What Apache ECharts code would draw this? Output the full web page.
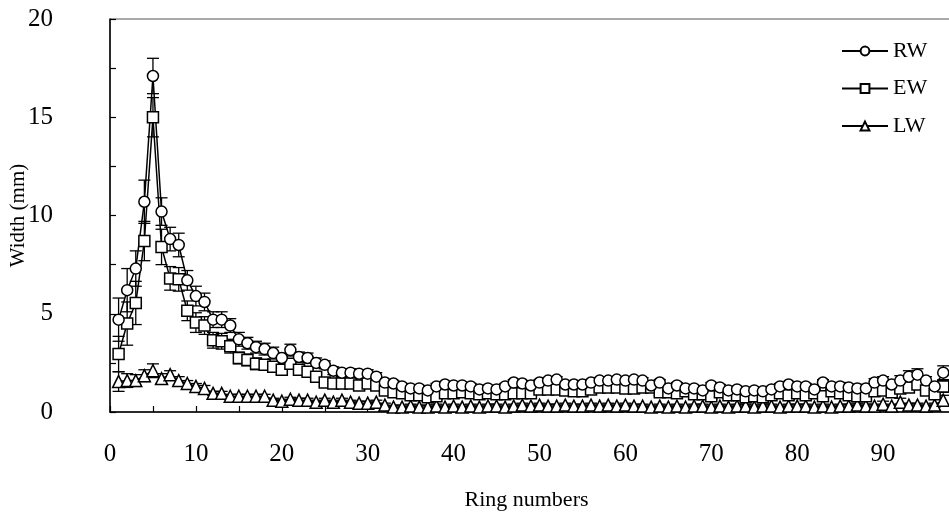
<!DOCTYPE html>
<html>
<head>
<meta charset="utf-8">
<script src="https://cdn.jsdelivr.net/npm/echarts@6/dist/echarts.min.js"></script>
<style>
  html, body { margin: 0; padding: 0; background: #fff; }
  #chart { width: 949px; height: 516px; }
</style>
</head>
<body>
<div id="chart"></div>
<script>
// ring widths (mm), ring 1..97
const rwList = [4.7, 6.2, 7.3, 10.7, 17.1, 10.2, 8.8, 8.5, 6.7, 5.9,
  5.6, 4.7, 4.7, 4.4, 3.7, 3.5, 3.3, 3.2, 3.0, 2.75,
  3.15, 2.8, 2.75, 2.5, 2.4, 2.1, 2.0, 2.0, 1.95, 1.95,
  1.8, 1.5, 1.45, 1.3, 1.2, 1.2, 1.1, 1.3, 1.4, 1.35,
  1.35, 1.3, 1.15, 1.2, 1.15, 1.3, 1.5, 1.45, 1.35, 1.5,
  1.6, 1.65, 1.4, 1.4, 1.4, 1.5, 1.6, 1.6, 1.65, 1.6,
  1.65, 1.6, 1.35, 1.5, 1.2, 1.35, 1.2, 1.2, 1.1, 1.35,
  1.25, 1.1, 1.15, 1.05, 1.1, 1.05, 1.15, 1.3, 1.4, 1.3,
  1.3, 1.15, 1.5, 1.3, 1.3, 1.25, 1.2, 1.2, 1.5, 1.6,
  1.4, 1.6, 1.8, 1.9, 1.6, 1.3, 2.0]
const ewList = [2.95, 4.5, 5.55, 8.7, 15.0, 8.4, 6.8, 6.75, 5.15, 4.55,
  4.4, 3.65, 3.6, 3.35, 2.75, 2.65, 2.45, 2.4, 2.3, 2.15,
  2.45, 2.15, 2.05, 1.8, 1.5, 1.45, 1.45, 1.45, 1.35, 1.45,
  1.35, 1.1, 1.0, 0.95, 0.85, 0.85, 0.75, 0.8, 0.95, 0.95,
  1.0, 0.95, 0.9, 0.95, 0.9, 0.9, 0.95, 0.95, 0.95, 1.15,
  1.15, 1.15, 1.1, 1.05, 1.05, 1.15, 1.25, 1.25, 1.25, 1.2,
  1.2, 1.25, 1.25, 1.0, 1.0, 0.95, 1.05, 0.9, 0.9, 0.8,
  1.0, 0.85, 0.85, 0.75, 0.8, 0.75, 0.85, 0.95, 0.85, 0.95,
  0.85, 0.95, 0.8, 1.05, 0.95, 0.85, 0.8, 0.8, 1.05, 1.1,
  1.0, 1.2, 1.25, 1.4, 1.1, 0.9, 1.3]
const lwList = [1.55, 1.6, 1.6, 1.85, 2.1, 1.7, 1.9, 1.6, 1.45, 1.3,
  1.2, 0.95, 0.95, 0.8, 0.8, 0.8, 0.8, 0.8, 0.6, 0.55,
  0.65, 0.6, 0.6, 0.5, 0.6, 0.5, 0.6, 0.5, 0.45, 0.45,
  0.5, 0.35, 0.25, 0.25, 0.3, 0.25, 0.25, 0.3, 0.25, 0.3,
  0.25, 0.3, 0.25, 0.3, 0.3, 0.25, 0.3, 0.35, 0.3, 0.35,
  0.3, 0.3, 0.35, 0.3, 0.3, 0.35, 0.3, 0.35, 0.3, 0.35,
  0.3, 0.3, 0.25, 0.3, 0.25, 0.3, 0.25, 0.3, 0.3, 0.25,
  0.3, 0.25, 0.3, 0.3, 0.25, 0.3, 0.3, 0.25, 0.3, 0.3,
  0.3, 0.25, 0.3, 0.25, 0.3, 0.3, 0.35, 0.3, 0.3, 0.4,
  0.3, 0.5, 0.35, 0.35, 0.3, 0.35, 0.6]

// standard errors
const rwErr = [1.1, 1.1, 0.9, 1.1, 0.9, 0.7, 0.6, 0.6, 0.5, 0.5,
  0.45, 0.4, 0.4, 0.35, 0.35, 0.3, 0.3, 0.3, 0.3, 0.25,
  0.3, 0.25, 0.25, 0.25, 0.2, 0.2, 0.2, 0.2, 0.2, 0.2,
  0.2, 0.15, 0.15, 0.15, 0.15, 0.15, 0.15, 0.15, 0.15, 0.15,
  0.15, 0.15, 0.15, 0.15, 0.15, 0.15, 0.15, 0.15, 0.15, 0.15,
  0.15, 0.15, 0.15, 0.15, 0.15, 0.15, 0.15, 0.15, 0.15, 0.15,
  0.15, 0.15, 0.15, 0.15, 0.15, 0.15, 0.15, 0.15, 0.15, 0.15,
  0.15, 0.15, 0.15, 0.15, 0.15, 0.15, 0.15, 0.15, 0.15, 0.15,
  0.15, 0.15, 0.15, 0.15, 0.2, 0.15, 0.2, 0.2, 0.2, 0.2,
  0.2, 0.25, 0.3, 0.3, 0.2, 0.2, 0.35]
const ewErr = [0.9, 1.1, 1.1, 1.0, 1.0, 0.9, 0.6, 0.6, 0.5, 0.5,
  0.45, 0.4, 0.4, 0.35, 0.3, 0.3, 0.3, 0.25, 0.25, 0.25,
  0.25, 0.25, 0.2, 0.2, 0.2, 0.2, 0.2, 0.2, 0.15, 0.15,
  0.15, 0.15, 0.15, 0.15, 0.15, 0.15, 0.15, 0.15, 0.15, 0.15,
  0.15, 0.15, 0.15, 0.15, 0.15, 0.15, 0.15, 0.15, 0.15, 0.15,
  0.15, 0.15, 0.15, 0.15, 0.15, 0.15, 0.15, 0.15, 0.15, 0.15,
  0.15, 0.15, 0.15, 0.15, 0.15, 0.15, 0.15, 0.15, 0.15, 0.15,
  0.15, 0.15, 0.15, 0.15, 0.15, 0.15, 0.15, 0.15, 0.15, 0.15,
  0.15, 0.15, 0.15, 0.15, 0.15, 0.15, 0.15, 0.15, 0.2, 0.2,
  0.2, 0.2, 0.25, 0.25, 0.2, 0.2, 0.3]
const lwErr = [0.5, 0.35, 0.3, 0.3, 0.35, 0.25, 0.2, 0.2, 0.15, 0.15,
  0.15, 0.1, 0.1, 0.1, 0.1, 0.1, 0.1, 0.1, 0.1, 0.1,
  0.1, 0.1, 0.1, 0.1, 0.1, 0.1, 0.1, 0.1, 0.1, 0.1,
  0.1, 0.1, 0.1, 0.1, 0.1, 0.1, 0.1, 0.1, 0.1, 0.1,
  0.1, 0.1, 0.1, 0.1, 0.1, 0.1, 0.1, 0.1, 0.1, 0.1,
  0.1, 0.1, 0.1, 0.1, 0.1, 0.1, 0.1, 0.1, 0.1, 0.1,
  0.1, 0.1, 0.1, 0.1, 0.1, 0.1, 0.1, 0.1, 0.1, 0.1,
  0.1, 0.1, 0.1, 0.1, 0.1, 0.1, 0.1, 0.1, 0.1, 0.1,
  0.1, 0.1, 0.1, 0.1, 0.1, 0.1, 0.1, 0.1, 0.1, 0.15,
  0.1, 0.2, 0.1, 0.1, 0.1, 0.1, 0.25]

const yLabels = [0, 5, 10, 15, 20]
const xLabels = [0, 10, 20, 30, 40, 50, 60, 70, 80, 90]

const serif = '"Liberation Serif", "DejaVu Serif", serif'

function pairs (list) {
  return list.map(function (v, i) { return [i + 1, v] })
}
function errData (list, errs) {
  return list.map(function (v, i) { return [i + 1, v, errs[i]] })
}
function renderErr (params, api) {
  const x = api.value(0)
  const y = api.value(1)
  const e = api.value(2)
  const hi = api.coord([x, y + e])
  const lo = api.coord([x, y - e])
  const w = 6
  const st = { stroke: '#000', lineWidth: 1.3 }
  return {
    type: 'group',
    children: [
      { type: 'line', shape: { x1: hi[0], y1: hi[1], x2: lo[0], y2: lo[1] }, style: st },
      { type: 'line', shape: { x1: hi[0] - w, y1: hi[1], x2: hi[0] + w, y2: hi[1] }, style: st },
      { type: 'line', shape: { x1: lo[0] - w, y1: lo[1], x2: lo[0] + w, y2: lo[1] }, style: st }
    ]
  }
}
function lineSeries (name, list, symbol, size) {
  return {
    name: name,
    type: 'line',
    data: pairs(list),
    symbol: symbol,
    symbolSize: size,
    showAllSymbol: true,
    z: 3,
    lineStyle: { color: '#000', width: 1.5 },
    itemStyle: { color: '#fff', borderColor: '#000', borderWidth: 1.5 },
    emphasis: { disabled: true }
  }
}
function errSeries (list, errs) {
  return {
    type: 'custom',
    data: errData(list, errs),
    renderItem: renderErr,
    clip: true,
    z: 2,
    silent: true
  }
}

const chart = echarts.init(document.getElementById('chart'))
const option = {
  animation: false,
  backgroundColor: '#fff',
  grid: {
    left: 110,
    right: -20,
    top: 19,
    bottom: 104,
    outerBoundsMode: 'none',
    containLabel: false,
    show: true,
    borderColor: '#555',
    borderWidth: 1
  },
  legend: {
    orient: 'vertical',
    left: 836,
    top: 35,
    itemWidth: 46,
    itemHeight: 11,
    itemGap: 15.5,
    textStyle: { fontFamily: serif, fontSize: 22, color: '#000' },
    data: ['RW', 'EW', 'LW']
  },
  xAxis: {
    type: 'value',
    min: 0,
    max: 100,
    interval: 5,
    name: 'Ring numbers',
    nameLocation: 'middle',
    nameGap: 77,
    nameMoveOverlap: false,
    nameTextStyle: { fontFamily: serif, fontSize: 22, color: '#000', padding: [0, 26, 0, 0] },
    axisLine: { lineStyle: { color: '#000', width: 1.5 } },
    axisTick: { inside: true, length: 6, lineStyle: { color: '#000', width: 1.2 } },
    axisLabel: {
      margin: 30,
      fontFamily: serif,
      fontSize: 25,
      color: '#000',
      formatter: function (v) { return xLabels.indexOf(v) >= 0 ? String(v) : '' }
    },
    splitLine: { show: false }
  },
  yAxis: {
    type: 'value',
    min: 0,
    max: 20,
    interval: 2.5,
    name: 'Width (mm)',
    nameLocation: 'middle',
    nameGap: 81,
    nameMoveOverlap: false,
    nameTextStyle: { fontFamily: serif, fontSize: 21, color: '#000' },
    axisLine: { show: true, lineStyle: { color: '#000', width: 1.5 } },
    axisTick: { show: true, inside: true, length: 6, lineStyle: { color: '#000', width: 1.2 } },
    axisLabel: {
      margin: 57,
      fontFamily: serif,
      fontSize: 25,
      color: '#000',
      formatter: function (v) { return yLabels.indexOf(v) >= 0 ? String(v) : '' }
    },
    splitLine: { show: false }
  },
  series: [
    errSeries(lwList, lwErr),
    errSeries(ewList, ewErr),
    errSeries(rwList, rwErr),
    lineSeries('LW', lwList, 'triangle', 12),
    lineSeries('EW', ewList, 'rect', 11),
    lineSeries('RW', rwList, 'circle', 11)
  ]
}
chart.setOption(option)
</script>
</body>
</html>
